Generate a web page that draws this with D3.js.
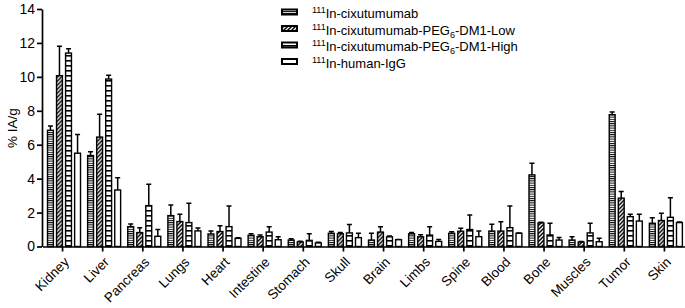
<!DOCTYPE html>
<html>
<head>
<script src="https://d3js.org/d3.v7.js"></script>
<style>
  body { margin: 0; background: #fff; }
  text { font-family: "Liberation Sans", Arial, sans-serif; }
</style>
</head>
<body>
<div id="chart"></div>
<script>
const organs = ['Kidney', 'Liver', 'Pancreas', 'Lungs', 'Heart', 'Intestine', 'Stomach', 'Skull',
                'Brain', 'Limbs', 'Spine', 'Blood', 'Bone', 'Muscles', 'Tumor', 'Skin']
const seriesKeys = ['cix', 'low', 'high', 'igg']

// mean values (%IA/g)
const cixMean  = [6.85, 5.36, 1.17, 1.82, 0.74, 0.66, 0.38, 0.78, 0.38, 0.75, 0.78, 0.91, 4.22, 0.38, 7.77, 1.37]
const lowMean  = [10.07, 6.45, 0.82, 1.47, 0.88, 0.58, 0.27, 0.75, 0.85, 0.57, 0.9, 0.91, 1.39, 0.26, 2.85, 1.53]
const highMean = [11.4, 9.87, 2.41, 1.41, 1.17, 0.85, 0.36, 0.8, 0.57, 0.67, 1.0, 1.11, 0.68, 0.8, 1.76, 1.72]
const iggMean  = [5.5, 3.33, 0.6, 0.92, 0.48, 0.4, 0.21, 0.52, 0.4, 0.3, 0.58, 0.78, 0.38, 0.28, 1.5, 1.41]

// top of error bars
const cixErr  = [7.1, 5.58, 1.33, 2.45, 0.92, 0.75, 0.45, 0.88, 0.78, 0.82, 0.87, 1.31, 4.91, 0.58, 7.93, 1.7]
const lowErr  = [11.8, 7.8, 1.1, 1.9, 1.23, 0.68, 0.31, 0.82, 1.17, 0.7, 1.07, 1.46, 1.43, 0.3, 3.24, 1.96]
const highErr = [11.65, 10.1, 3.67, 2.55, 2.39, 1.17, 0.75, 1.3, 0.62, 1.17, 1.86, 2.39, 1.37, 1.37, 1.9, 2.88]
const iggErr  = [6.6, 4.05, 1.0, 1.09, 0.52, 0.57, 0.25, 0.78, 0.42, 0.42, 0.91, 0.8, 0.53, 0.48, 1.9, 1.45]

const yTicks = [0, 2, 4, 6, 8, 10, 12, 14]

const means = { cix: cixMean, low: lowMean, high: highMean, igg: iggMean }
const errs = { cix: cixErr, low: lowErr, high: highErr, igg: iggErr }

const w = 685, h = 308
const svg = d3.select('#chart').append('svg').attr('width', w).attr('height', h)

// fill patterns
const defs = svg.append('defs')
const pCix = defs.append('pattern').attr('id', 'p-cix').attr('patternUnits', 'userSpaceOnUse')
  .attr('width', 6).attr('height', 2.2)
pCix.append('rect').attr('width', 6).attr('height', 2.2).attr('fill', '#fff')
pCix.append('rect').attr('width', 6).attr('height', 1).attr('fill', '#000')

const pLow = defs.append('pattern').attr('id', 'p-low').attr('patternUnits', 'userSpaceOnUse')
  .attr('width', 4).attr('height', 4)
pLow.append('rect').attr('width', 4).attr('height', 4).attr('fill', '#fff')
pLow.append('path').attr('d', 'M-1,5 L5,-1 M-1,1 L1,-1 M3,5 L5,3').attr('stroke', '#000').attr('stroke-width', 1.5)

const pHigh = defs.append('pattern').attr('id', 'p-high').attr('patternUnits', 'userSpaceOnUse')
  .attr('width', 6).attr('height', 5)
pHigh.append('rect').attr('width', 6).attr('height', 5).attr('fill', '#fff')
pHigh.append('rect').attr('width', 6).attr('height', 1.6).attr('fill', '#000')

const fills = { cix: 'url(#p-cix)', low: 'url(#p-low)', high: 'url(#p-high)', igg: '#fff' }

const x0 = d3.scaleBand().domain(organs).range([42.5, 684.5])
const x1 = d3.scaleBand().domain(seriesKeys).range([5, 38]).paddingInner(0.35)
const y = d3.scaleLinear().domain([0, 14]).range([246.5, 9])

const rows = organs.map((o, i) => ({
  organ: o,
  vals: seriesKeys.map(k => ({ key: k, v: means[k][i], e: errs[k][i] }))
}))

const groups = svg.append('g').selectAll('g').data(rows).enter().append('g')
  .attr('transform', d => 'translate(' + x0(d.organ) + ',0)')

// error bars (upper only)
groups.selectAll('.err').data(d => d.vals).enter().append('path')
  .attr('class', 'err')
  .attr('d', d => {
    const cx = x1(d.key) + x1.bandwidth() / 2
    return 'M' + cx + ',' + y(d.v) + 'V' + y(d.e) + 'M' + (cx - 2.5) + ',' + y(d.e) + 'H' + (cx + 2.5)
  })
  .attr('stroke', '#000').attr('stroke-width', 1.5).attr('fill', 'none')

groups.selectAll('rect').data(d => d.vals).enter().append('rect')
  .attr('x', d => x1(d.key))
  .attr('y', d => y(d.v))
  .attr('width', x1.bandwidth())
  .attr('height', d => y(0) - y(d.v))
  .attr('fill', d => fills[d.key])
  .attr('stroke', '#000').attr('stroke-width', 1.4)

// axes
const yAxis = d3.axisLeft(y).tickValues(yTicks).tickSize(5).tickPadding(2).tickSizeOuter(0)
const gy = svg.append('g').attr('transform', 'translate(42,0)').call(yAxis)
gy.selectAll('text').attr('font-size', 14).attr('fill', '#000')

const xAxis = d3.axisBottom(x0).tickSize(5).tickSizeOuter(0)
const gx = svg.append('g').attr('transform', 'translate(0,' + y(0) + ')').call(xAxis)
gx.selectAll('text')
  .attr('font-size', 13.5).attr('fill', '#000')
  .attr('text-anchor', 'end')
  .attr('dy', '0.35em')
  .attr('transform', 'translate(4,13) rotate(-45)')
  .attr('x', 0).attr('y', 0)

svg.selectAll('.domain, .tick line').attr('stroke', '#000').attr('stroke-width', 1.7)

svg.append('text')
  .attr('transform', 'translate(17,128) rotate(-90)')
  .attr('text-anchor', 'middle')
  .attr('font-size', 13.5)
  .text('% IA/g')

// legend
const legendNames = ['In-cixutumumab', 'In-cixutumumab-PEG', 'In-cixutumumab-PEG', 'In-human-IgG']
const legendSubs = ['', '6', '6', '']
const legendTails = ['', '-DM1-Low', '-DM1-High', '']
const legend = svg.append('g').attr('transform', 'translate(282,0)')
seriesKeys.forEach((k, i) => {
  const ly = 12 + i * 16.5
  legend.append('rect').attr('x', 0).attr('y', ly - 2.5).attr('width', 15).attr('height', 5)
    .attr('fill', fills[k]).attr('stroke', '#000').attr('stroke-width', 2)
  const t = legend.append('text').attr('x', 30).attr('y', ly + 6).attr('font-size', 13)
  t.append('tspan').attr('font-size', 9).attr('dy', -5).text('111')
  t.append('tspan').attr('dy', 5).text(legendNames[i])
  if (legendSubs[i]) {
    t.append('tspan').attr('font-size', 9).attr('dy', 3).text(legendSubs[i])
    t.append('tspan').attr('dy', -3).text(legendTails[i])
  }
})
</script>
</body>
</html>
